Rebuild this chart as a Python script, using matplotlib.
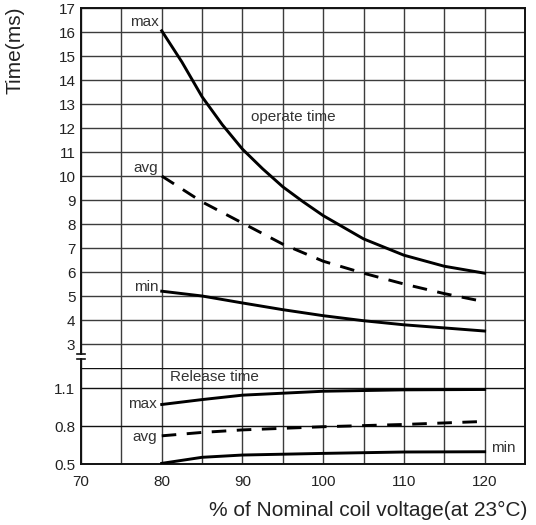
import matplotlib
matplotlib.use("Agg")
import matplotlib.pyplot as plt
import matplotlib.transforms as mtransforms

plt.rcParams['font.family'] = ['Liberation Sans', 'DejaVu Sans']

# ---- data ----
voltage_max = [80, 82.5, 85, 87.5, 90, 92.5, 95, 97.5, 100, 105, 110, 115, 120]
operate_max = [16.05, 14.75, 13.3, 12.14, 11.12, 10.3, 9.55, 8.93, 8.35, 7.38, 6.7, 6.24, 5.95]
voltage = [80, 85, 90, 95, 100, 105, 110, 115, 120]
operate_avg = [10.0, 8.92, 8.04, 7.16, 6.45, 5.95, 5.5, 5.1, 4.76]
operate_min = [5.2, 5.0, 4.71, 4.43, 4.18, 3.97, 3.8, 3.67, 3.54]
release_voltage = [80, 85, 90, 100, 110, 120]
release_max = [0.971, 1.01, 1.045, 1.076, 1.087, 1.09]
release_avg = [0.723, 0.75, 0.77, 0.795, 0.813, 0.837]
release_min = [0.505, 0.553, 0.571, 0.584, 0.595, 0.597]

x_ticks = [70, 75, 80, 85, 90, 95, 100, 105, 110, 115, 120, 125]
x_labels = ['70', '', '80', '', '90', '', '100', '', '110', '', '120', '']
upper_ticks = list(range(3, 18))
lower_ticks = [0.5, 0.8, 1.1]

TXT = '#222222'
GRID = '#3c3c3c'

fig = plt.figure(figsize=(5.36, 5.25), dpi=100)
left, width = 81 / 536, 444 / 536
ax_u = fig.add_axes([left, 1 - 368 / 525, width, 360 / 525])
ax_l = fig.add_axes([left, 1 - 464 / 525, width, 96 / 525])

for ax in (ax_u, ax_l):
    ax.set_xlim(70, 125)
    ax.set_xticks(x_ticks)
    for xv in x_ticks:
        ax.axvline(xv, color=GRID, lw=1.0, zorder=1)
    ax.tick_params(length=0, labelsize=11, colors=TXT, pad=4)
    for s in ax.spines.values():
        s.set_color('#111111')
        s.set_linewidth(1.4)

# upper
ax_u.set_ylim(2, 17)
ax_u.set_yticks(upper_ticks)
ax_u.set_xticklabels([])
for yv in upper_ticks:
    ax_u.axhline(yv, color=GRID, lw=1.0, zorder=1)
ax_u.spines['bottom'].set_visible(False)
ax_u.plot(voltage_max, operate_max, color='black', lw=2.1, zorder=3)
ax_u.plot(voltage, operate_avg, color='black', lw=2.1, ls=(0, (5, 3.6)), zorder=3)
ax_u.plot(voltage, operate_min, color='black', lw=2.1, zorder=3)

# lower
ax_l.set_ylim(0.5, 1.26)
ax_l.set_yticks(lower_ticks)
ax_l.set_yticklabels(['0.5', '0.8', '1.1'])
ax_l.set_xticklabels(x_labels)
ax_l.tick_params(axis='x', pad=8)
for yv in [0.8, 1.1, 1.26]:
    ax_l.axhline(yv, color='#111111', lw=1.0, zorder=1)
ax_l.spines['top'].set_visible(False)
ax_l.plot(release_voltage, release_max, color='black', lw=2.1, zorder=3)
ax_l.plot(release_voltage, release_avg, color='black', lw=2.1, ls=(0, (5, 3.6)), zorder=3)
ax_l.plot(release_voltage, release_min, color='black', lw=2.1, zorder=3)

# annotations
kw = dict(fontsize=11, color='#333333', zorder=4)
ax_u.text(79.6, 16.4, 'max', ha='right', va='center', **kw)
ax_u.text(79.5, 10.33, 'avg', ha='right', va='center', **kw)
ax_u.text(79.6, 5.39, 'min', ha='right', va='center', **kw)
ax_u.text(91.1, 12.46, 'operate time', ha='left', va='center', **kw)
ax_l.text(81.0, 1.19, 'Release time', ha='left', va='center', **kw)
ax_l.text(79.4, 0.973, 'max', ha='right', va='center', **kw)
ax_l.text(79.4, 0.713, 'avg', ha='right', va='center', **kw)
ax_l.text(120.8, 0.626, 'min', ha='left', va='center', **kw)

# axis break marks on left spine
trans = mtransforms.blended_transform_factory(ax_u.transAxes, ax_u.transData)
ax_u.add_patch(plt.Rectangle((-0.006, 2.4), 0.012, 0.16, transform=trans,
                             facecolor='white', edgecolor='none', clip_on=False, zorder=5))
for yb in (2.38, 2.58):
    ax_u.plot([-0.009, 0.009], [yb, yb], transform=trans, color='#111111',
              lw=1.2, clip_on=False, zorder=6)

fig.text(15 / 536, 1 - 50 / 525, 'Time(ms)', rotation=90, ha='center', va='center',
         fontsize=15, color=TXT)
fig.text(527 / 536, 1 - 510 / 525, '% of Nominal coil voltage(at 23°C)', ha='right',
         va='center', fontsize=15, color=TXT)

fig.savefig('out.png', dpi=100)
